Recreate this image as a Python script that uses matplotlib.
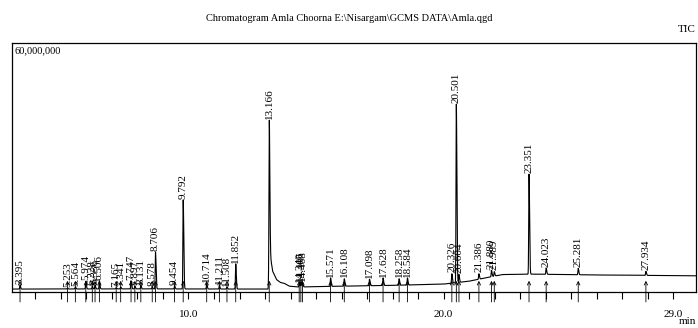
import matplotlib
matplotlib.use('Agg')

from matplotlib import pyplot as plt
from matplotlib.ticker import FixedLocator, NullFormatter
import numpy as np

# peak retention times (min) and apex intensity (counts)
peak_times = [3.395, 5.253, 5.564, 5.974, 6.228, 6.336, 6.506, 7.165, 7.341, 7.747,
              7.897, 8.131, 8.578, 8.706, 9.454, 9.792, 10.714, 11.211, 11.508, 11.852,
              13.166, 14.340, 14.405, 14.468, 15.571, 16.108, 17.098, 17.628, 18.258, 18.584,
              20.326, 20.501, 20.604, 21.386, 21.880, 21.989, 23.351, 24.023, 25.281, 27.934]
peak_heights = [1.6e6, 0.9e6, 1.2e6, 2.6e6, 1.4e6, 1.6e6, 2.7e6, 1.0e6, 1.2e6, 2.7e6,
                1.4e6, 1.6e6, 1.2e6, 9.6e6, 1.5e6, 22.2e6, 2.0e6, 1.6e6, 1.2e6, 6.8e6,
                41.4e6, 2.2e6, 2.3e6, 2.4e6, 3.4e6, 3.2e6, 3.1e6, 3.4e6, 3.2e6, 3.4e6,
                4.4e6, 45.3e6, 4.2e6, 4.4e6, 5.2e6, 4.9e6, 28.4e6, 5.8e6, 5.7e6, 5.0e6]
peak_labels = ['3.395', '5.253', '5.564', '5.974', '6.228', '6.336', '6.506', '7.165', '7.341', '7.747',
               '7.897', '8.131', '8.578', '8.706', '9.454', '9.792', '10.714', '11.211', '11.508', '11.852',
               '13.166', '14.340', '14.405', '14.468', '15.571', '16.108', '17.098', '17.628', '18.258', '18.584',
               '20.326', '20.501', '20.604', '21.386', '21.880', '21.989', '23.351', '24.023', '25.281', '27.934']

# baseline (drift) of the TIC trace, incl. the tail after 13.166
base_times = [3.08, 8.0, 12.9, 13.12, 13.2, 13.3, 13.45, 13.6, 13.75, 13.95, 14.3,
              16.0, 18.0, 20.0, 21.0, 22.3, 23.5, 26.0, 29.9]
base_values = [0.7e6, 0.75e6, 0.7e6, 0.7e6, 9.0e6, 5.0e6, 3.0e6, 2.3e6, 2.1e6, 1.4e6, 1.2e6,
               1.4e6, 1.6e6, 1.9e6, 2.6e6, 4.2e6, 4.3e6, 4.1e6, 3.9e6]

x_ticks = [10.0, 20.0, 29.0]
x_tick_labels = ['10.0', '20.0', '29.0']

plt.rcParams['font.family'] = ['Liberation Serif', 'DejaVu Serif']

# trace = baseline + narrow peaks
t = np.linspace(3.08, 29.9, 8000)
signal = np.interp(t, base_times, base_values)
for pt, ph in zip(peak_times, peak_heights):
    amp = ph - np.interp(pt, base_times, base_values)
    sig = np.where(t < pt, 0.012, 0.022)
    signal = signal + amp * np.exp(-(t - pt) ** 2 / (2 * sig ** 2))

fig = plt.figure(figsize=(6.98, 3.28), dpi=100)
ax = fig.add_axes([0.0172, 0.1098, 0.98, 0.7591])

ax.plot(t, signal, color='black', lw=0.8)

# peak labels above the apex
for pt, ph, lab in zip(peak_times, peak_heights, peak_labels):
    ax.text(pt, ph + 0.3e6, lab, rotation=90, ha='center', va='bottom', fontsize=8)
    # integration marks crossing the axis
    ax.annotate('', xy=(pt, 0.045), xytext=(pt, -0.04),
                xycoords=ax.get_xaxis_transform(), textcoords=ax.get_xaxis_transform(),
                arrowprops=dict(arrowstyle='->', lw=0.6, color='black',
                                shrinkA=0, shrinkB=0, mutation_scale=6),
                annotation_clip=False)

ax.set_xlim(3.08, 29.9)
ax.set_ylim(0, 60e6)

ax.xaxis.set_major_locator(FixedLocator(x_ticks))
ax.set_xticklabels(x_tick_labels, fontsize=8)
ax.xaxis.set_minor_locator(FixedLocator(np.arange(4, 30)))
ax.xaxis.set_minor_formatter(NullFormatter())
ax.tick_params(axis='x', which='both', direction='out', length=5, width=0.8, pad=8)
ax.set_yticks([])

for s in ax.spines.values():
    s.set_linewidth(0.9)

ax.text(0.003, 0.985, '60,000,000', transform=ax.transAxes, ha='left', va='top', fontsize=7.5)
fig.text(0.997, 0.91, 'TIC', ha='right', va='center', fontsize=8)
fig.text(0.997, 0.02, 'min', ha='right', va='center', fontsize=8)
fig.text(0.5, 0.945, 'Chromatogram Amla Choorna E:\\Nisargam\\GCMS DATA\\Amla.qgd',
         ha='center', va='center', fontsize=7.5)

plt.savefig('out.png', dpi=100)
plt.close()
